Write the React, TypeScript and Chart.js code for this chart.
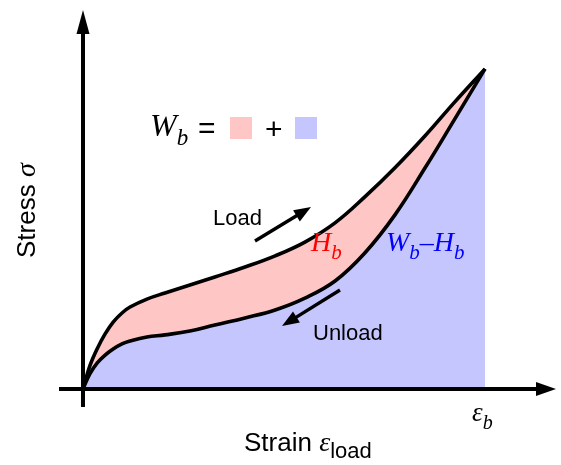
import React, { useEffect, useRef } from "react";
import { Chart, registerables } from "chart.js";

Chart.register(...registerables);

// Normalised strain (ε / ε_b) and stress (σ / σ_max)
const strain = [0, 0.017, 0.035, 0.055, 0.075, 0.097, 0.117, 0.159, 0.204, 0.266, 0.328, 0.403, 0.478, 0.552, 0.627, 0.701, 0.776, 0.851, 0.925, 1];
const loadStress = [0, 0.072, 0.125, 0.172, 0.209, 0.2375, 0.256, 0.281, 0.3, 0.325, 0.35, 0.381, 0.416, 0.459, 0.519, 0.6, 0.691, 0.791, 0.897, 1];
const unloadStress = [0, 0.047, 0.081, 0.106, 0.125, 0.141, 0.15, 0.1625, 0.169, 0.181, 0.2, 0.222, 0.247, 0.284, 0.3375, 0.425, 0.544, 0.691, 0.844, 1];

const xLabel = "Strain ";
const xSub = "load";
const yLabel = "Stress ";

const PINK = "#FFC6C6";
const BLUE = "#C6C6FF";

type Run = { t: string; font: string; dy?: number; color?: string };

function drawRuns(ctx: CanvasRenderingContext2D, runs: Run[], x: number, y: number) {
  let cx = x;
  for (const r of runs) {
    ctx.font = r.font;
    ctx.fillStyle = r.color || "#000";
    ctx.fillText(r.t, cx, y + (r.dy || 0));
    cx += ctx.measureText(r.t).width;
  }
}

function arrow(ctx: CanvasRenderingContext2D, x1: number, y1: number, x2: number, y2: number, lw: number, hl: number, hw: number) {
  const ang = Math.atan2(y2 - y1, x2 - x1);
  const bx = x2 - hl * Math.cos(ang);
  const by = y2 - hl * Math.sin(ang);
  ctx.save();
  ctx.strokeStyle = "#000";
  ctx.fillStyle = "#000";
  ctx.lineWidth = lw;
  ctx.lineCap = "butt";
  ctx.beginPath();
  ctx.moveTo(x1, y1);
  ctx.lineTo(bx + Math.cos(ang) * 2, by + Math.sin(ang) * 2);
  ctx.stroke();
  ctx.beginPath();
  ctx.moveTo(x2, y2);
  ctx.lineTo(bx + (hw / 2) * Math.sin(ang), by - (hw / 2) * Math.cos(ang));
  ctx.lineTo(bx - (hw / 2) * Math.sin(ang), by + (hw / 2) * Math.cos(ang));
  ctx.closePath();
  ctx.fill();
  ctx.restore();
}

const serifI = (s: number) => `italic ${s}px "Liberation Serif", "DejaVu Serif", serif`;
const serif = (s: number) => `${s}px "Liberation Serif", "DejaVu Serif", serif`;
const sans = (s: number) => `${s}px "Liberation Sans", Arial, sans-serif`;

const decor = {
  id: "decor",
  afterDatasetsDraw(chart: any) {
    const ctx: CanvasRenderingContext2D = chart.ctx;
    const xs = chart.scales.x;
    const ys = chart.scales.y;
    const ca = chart.chartArea;
    const ox = xs.getPixelForValue(0);
    const oy = ys.getPixelForValue(0);
    ctx.save();
    // axes
    arrow(ctx, ox, ca.bottom, ox, ca.top, 4, 24, 13);
    arrow(ctx, ca.left, oy, ca.right, oy, 4, 20, 14);

    ctx.textBaseline = "alphabetic";
    // W_b = [pink] + [blue]
    drawRuns(ctx, [
      { t: "W", font: serifI(32) },
      { t: "b", font: serifI(23), dy: 9 },
    ], 150, 136);
    ctx.font = sans(30);
    ctx.fillStyle = "#000";
    ctx.fillText("=", 198, 138);
    ctx.fillStyle = PINK;
    ctx.fillRect(230, 117, 22, 22);
    ctx.font = sans(30);
    ctx.fillStyle = "#000";
    ctx.fillText("+", 265, 139);
    ctx.fillStyle = BLUE;
    ctx.fillRect(295, 117, 22, 22);

    // Load
    ctx.font = sans(22);
    ctx.fillStyle = "#000";
    ctx.fillText("Load", 213, 225);
    arrow(ctx, 255, 241, 311, 207, 3.4, 17, 13);

    // Unload
    ctx.fillText("Unload", 313, 340);
    arrow(ctx, 340, 290, 282, 326, 3.4, 17, 13);

    // H_b
    drawRuns(ctx, [
      { t: "H", font: serifI(28), color: "#FF0000" },
      { t: "b", font: serifI(21), dy: 8, color: "#FF0000" },
    ], 311, 251);
    // W_b - H_b
    drawRuns(ctx, [
      { t: "W", font: serifI(28), color: "#0000FF" },
      { t: "b", font: serifI(21), dy: 8, color: "#0000FF" },
      { t: "\u2013", font: serif(28), color: "#0000FF" },
      { t: "H", font: serifI(28), color: "#0000FF" },
      { t: "b", font: serifI(21), dy: 8, color: "#0000FF" },
    ], 386, 251);

    // epsilon_b
    drawRuns(ctx, [
      { t: "\u03B5", font: serifI(27) },
      { t: "b", font: serifI(20), dy: 8 },
    ], 472, 421);

    // x label
    drawRuns(ctx, [
      { t: xLabel, font: sans(26) },
      { t: "\u03B5", font: serifI(28) },
      { t: xSub, font: sans(22), dy: 7 },
    ], 244, 451);

    // y label
    ctx.save();
    ctx.translate(35, 258);
    ctx.rotate(-Math.PI / 2);
    drawRuns(ctx, [
      { t: yLabel, font: sans(26) },
      { t: "\u03C3", font: serifI(28) },
    ], 0, 0);
    ctx.restore();

    ctx.restore();
  },
};

export default function App() {
  const ref = useRef<HTMLCanvasElement | null>(null);
  useEffect(() => {
    document.body.style.margin = "0";
    const canvas = ref.current!;
    const chart = new Chart(canvas, {
      type: "line",
      data: {
        datasets: [
          {
            label: "Unload",
            data: strain.map((x, i) => ({ x, y: unloadStress[i] })),
            borderColor: "#000",
            borderWidth: 3.6,
            pointRadius: 0,
            fill: "origin",
            backgroundColor: BLUE,
            tension: 0.4,
          },
          {
            label: "Load",
            data: strain.map((x, i) => ({ x, y: loadStress[i] })),
            borderColor: "#000",
            borderWidth: 3.6,
            pointRadius: 0,
            fill: 0,
            backgroundColor: PINK,
            tension: 0.4,
          },
        ],
      } as any,
      options: {
        responsive: false,
        animation: false,
        devicePixelRatio: 1,
        layout: { padding: { left: 59, right: 5, top: 10, bottom: 58 } },
        scales: {
          x: { type: "linear", min: -0.0597, max: 1.1766, display: false },
          y: { type: "linear", min: -0.05625, max: 1.184, display: false },
        },
        plugins: { legend: { display: false }, tooltip: { enabled: false } },
        events: [],
      } as any,
      plugins: [decor],
    });
    return () => chart.destroy();
  }, []);
  return (
    <div style={{ width: 561, height: 465 }}>
      <canvas ref={ref} width={561} height={465} style={{ display: "block" }} />
    </div>
  );
}
